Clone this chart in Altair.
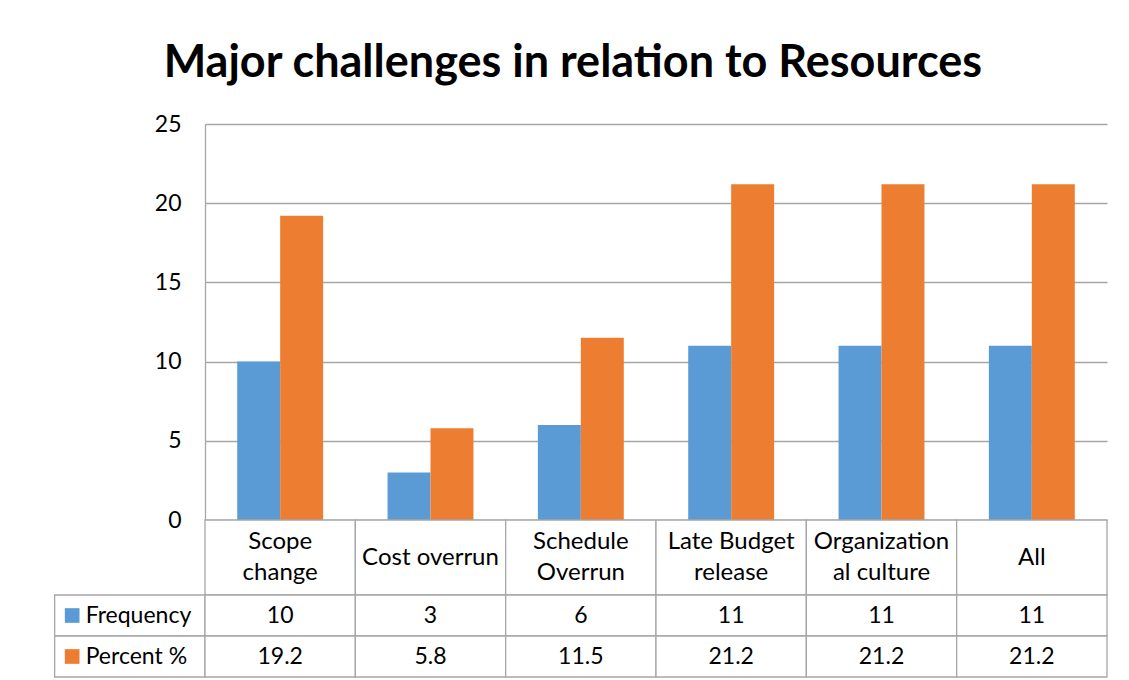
import altair as alt
import pandas as pd

categories = ["Scope change", "Cost overrun", "Schedule Overrun", "Late Budget release", "Organizational culture", "All"]
cat_labels = ["Scope\nchange", "Cost overrun", "Schedule\nOverrun", "Late Budget\nrelease", "Organization\nal culture", "All"]
series = ["Frequency", "Percent %"]
frequency = [10, 3, 6, 11, 11, 11]
percent = [19.2, 5.8, 11.5, 21.2, 21.2, 21.2]
percent_text = ["19.2", "5.8", "11.5", "21.2", "21.2", "21.2"]
y_ticks = [0, 5, 10, 15, 20, 25]

BLUE = "#5B9BD5"
ORANGE = "#ED7D31"
GRID = "#A6A6A6"
FONT = "Lato"

W = 902
COL = W / 6.0
color_scale = alt.Scale(domain=series, range=[BLUE, ORANGE])

# ---- bar data
bars_df = pd.DataFrame(
    [{"cat": c, "series": series[0], "value": f} for c, f in zip(categories, frequency)]
    + [{"cat": c, "series": series[1], "value": p} for c, p in zip(categories, percent)]
)

top = alt.Chart(bars_df).mark_bar().encode(
    x=alt.X("cat:N", sort=categories, axis=None,
            scale=alt.Scale(paddingInner=0, paddingOuter=0)),
    xOffset=alt.XOffset("series:N", sort=series,
                        scale=alt.Scale(paddingInner=0, paddingOuter=0.75)),
    y=alt.Y("value:Q", scale=alt.Scale(domain=[0, 25], nice=False),
            axis=alt.Axis(values=y_ticks, title=None, grid=True, gridColor=GRID,
                          gridWidth=1.3, domainColor=GRID, domainWidth=1.3,
                          ticks=False, labelPadding=24, labelFontSize=23,
                          labelFont=FONT, labelColor="#000000")),
    color=alt.Color("series:N", scale=color_scale, legend=None),
).properties(width=W, height=396)

# ---- category row
cat_df = pd.DataFrame({"cat": categories, "label": cat_labels})
cat_x = alt.X("cat:N", sort=categories, axis=None,
              scale=alt.Scale(paddingInner=0, paddingOuter=0))
cat_cells = alt.Chart(cat_df).mark_rect(fill="white", stroke=GRID, strokeWidth=1.3).encode(
    x=cat_x)
cat_text2 = alt.Chart(cat_df).transform_filter("indexof(datum.label, '\\n') >= 0").mark_text(
    fontSize=24, font=FONT, color="#000000", lineBreak="\n", lineHeight=31,
    baseline="middle", dy=-15.5).encode(x=cat_x, text="label:N")
cat_text1 = alt.Chart(cat_df).transform_filter("indexof(datum.label, '\\n') < 0").mark_text(
    fontSize=24, font=FONT, color="#000000", baseline="middle").encode(
    x=cat_x, text="label:N")
cat_row = alt.layer(cat_cells, cat_text2, cat_text1).properties(width=W, height=75)

# ---- data rows (with legend column to the left of the plot origin)
cols = ["__key"] + categories
rows = []
for s in series:
    rows.append({"col": "__key", "row": s, "text": s, "series": s})
for c, f in zip(categories, frequency):
    rows.append({"col": c, "row": series[0], "text": str(f), "series": series[0]})
for c, p in zip(categories, percent_text):
    rows.append({"col": c, "row": series[1], "text": p, "series": series[1]})
tab_df = pd.DataFrame(rows)

tab_x_scale = alt.Scale(domain=cols, range=[-COL, W], paddingInner=0, paddingOuter=0)
tab_y = alt.Y("row:N", sort=series, axis=None,
              scale=alt.Scale(paddingInner=0, paddingOuter=0))

tab_cells = alt.Chart(tab_df).mark_rect(fill="white", stroke=GRID, strokeWidth=1.3).encode(
    x=alt.X("col:N", scale=tab_x_scale, axis=None), y=tab_y)
tab_vals = alt.Chart(tab_df).transform_filter("datum.col != '__key'").mark_text(
    fontSize=23, font=FONT, color="#000000").encode(
    x=alt.X("col:N", scale=tab_x_scale, axis=None), y=tab_y, text="text:N")
key_sq = alt.Chart(tab_df).transform_filter("datum.col == '__key'").mark_square(
    size=215, opacity=1, filled=True).encode(
    x=alt.X("col:N", scale=tab_x_scale, axis=None, bandPosition=0),
    xOffset=alt.value(17.5), y=tab_y,
    color=alt.Color("series:N", scale=color_scale, legend=None))
key_txt = alt.Chart(tab_df).transform_filter("datum.col == '__key'").mark_text(
    fontSize=23, font=FONT, color="#000000", align="left", dx=31).encode(
    x=alt.X("col:N", scale=tab_x_scale, axis=None, bandPosition=0),
    y=tab_y, text="text:N")
data_rows = alt.layer(tab_cells, tab_vals, key_sq, key_txt).properties(width=W, height=82)

chart = alt.vconcat(top, cat_row, data_rows, spacing=0, bounds="flush").properties(
    title=alt.Title("Major challenges in relation to Resources", fontSize=45,
                    font=FONT, fontWeight="bold", color="#000000", offset=27,
                    anchor="middle", dx=-8),
    padding={"left": 46, "top": 33, "right": 10, "bottom": 5},
    background="white",
).configure_view(strokeWidth=0).resolve_scale(color="shared")

chart.save("out.html", embed_options={"renderer": "svg", "actions": False})
